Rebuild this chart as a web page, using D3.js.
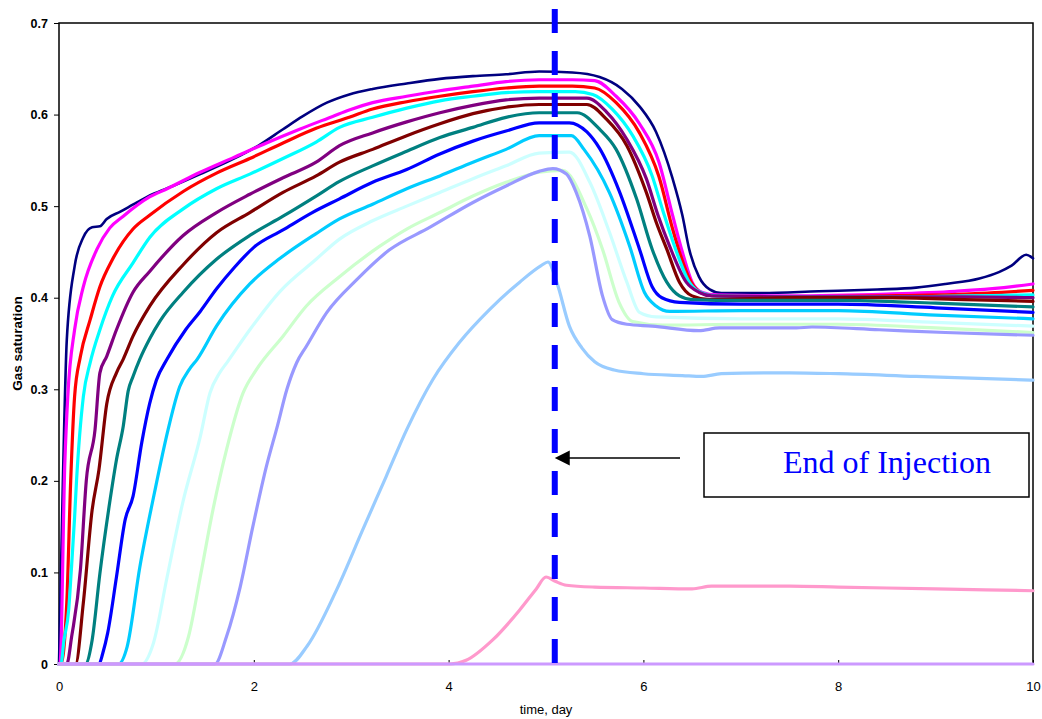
<!DOCTYPE html>
<html>
<head>
<meta charset="utf-8">
<script src="https://cdn.jsdelivr.net/npm/d3@7"></script>
<style>
  html, body { margin: 0; padding: 0; background: #fff; }
  svg { display: block; }
</style>
</head>
<body>
<svg id="chart" width="1042" height="719"></svg>
<script>
// ---------------- DATA (time in days, gas saturation) ----------------
const xTicks = [0, 2, 4, 6, 8, 10];
const yTicks = [0, 0.1, 0.2, 0.3, 0.4, 0.5, 0.6, 0.7];
const endOfInjection = 5.09;
const annotationText = "End of Injection";
const xTitle = "time, day";
const yTitle = "Gas saturation";

const sNavy = [[0,0],[0.04,0.2],[0.08,0.354],[0.16,0.434],[0.25,0.466],[0.34,0.477],[0.42,0.478],[0.49,0.486],[0.63,0.494],[0.8,0.504],[0.96,0.513],[1.17,0.522],[1.45,0.535],[1.78,0.551],[2.06,0.567],[2.3,0.584],[2.5,0.598],[2.75,0.613],[2.98,0.622],[3.22,0.628],[3.57,0.634],[3.91,0.639],[4.25,0.642],[4.59,0.644],[4.93,0.647],[5.27,0.646],[5.55,0.641],[5.78,0.628],[5.96,0.609],[6.13,0.581],[6.3,0.53],[6.4,0.49],[6.47,0.453],[6.57,0.423],[6.68,0.409],[6.8,0.405],[7.2,0.405],[7.8,0.407],[8.4,0.409],[8.8,0.411],[9.1,0.415],[9.45,0.421],[9.65,0.428],[9.78,0.435],[9.93,0.447],[10,0.443]];
const sMagenta = [[0,0],[0.01,0],[0.06,0.22],[0.09,0.292],[0.16,0.365],[0.25,0.412],[0.39,0.453],[0.52,0.476],[0.66,0.489],[0.93,0.51],[1.11,0.519],[1.45,0.537],[1.79,0.553],[2.13,0.569],[2.47,0.584],[2.81,0.598],[2.98,0.605],[3.22,0.613],[3.57,0.62],[3.91,0.626],[4.25,0.631],[4.59,0.636],[4.93,0.638],[5.27,0.638],[5.5,0.637],[5.72,0.62],[5.96,0.59],[6.16,0.548],[6.3,0.49],[6.4,0.45],[6.5,0.417],[6.6,0.406],[6.75,0.403],[7.5,0.402],[8.5,0.404],[9.2,0.407],[9.7,0.411],[10,0.415]];
const sRed = [[0,0],[0.02,0],[0.08,0.067],[0.12,0.2],[0.16,0.292],[0.22,0.336],[0.32,0.376],[0.42,0.412],[0.55,0.442],[0.76,0.475],[0.93,0.49],[1.275,0.516],[1.617,0.536],[1.959,0.552],[2.3,0.569],[2.64,0.585],[2.98,0.597],[3.22,0.606],[3.57,0.614],[3.91,0.62],[4.25,0.625],[4.59,0.629],[4.93,0.631],[5.27,0.631],[5.5,0.629],[5.72,0.613],[5.96,0.58],[6.16,0.532],[6.3,0.475],[6.37,0.45],[6.49,0.417],[6.6,0.405],[6.75,0.402],[7.5,0.401],[8.5,0.402],[9.3,0.404],[10,0.408]];
const sCyan = [[0,0],[0.02,0],[0.05,0.025],[0.1,0.06],[0.125,0.1],[0.16,0.16],[0.18,0.2],[0.25,0.292],[0.32,0.329],[0.42,0.365],[0.55,0.402],[0.76,0.438],[0.933,0.466],[1.275,0.497],[1.617,0.519],[1.959,0.535],[2.3,0.552],[2.64,0.57],[2.88,0.586],[3.22,0.597],[3.57,0.607],[3.91,0.615],[4.25,0.62],[4.59,0.624],[4.93,0.625],[5.3,0.625],[5.48,0.622],[5.68,0.606],[5.89,0.577],[6.09,0.533],[6.2,0.495],[6.34,0.45],[6.47,0.417],[6.61,0.405],[6.75,0.402],[7.5,0.401],[8.5,0.401],[9.3,0.402],[10,0.403]];
const sPurple = [[0,0],[0.08,0],[0.13,0.03],[0.22,0.103],[0.28,0.2],[0.37,0.256],[0.42,0.318],[0.49,0.336],[0.59,0.365],[0.76,0.406],[0.933,0.429],[1.275,0.468],[1.617,0.493],[1.959,0.513],[2.3,0.531],[2.64,0.548],[2.88,0.566],[3.22,0.58],[3.57,0.592],[3.91,0.602],[4.25,0.61],[4.59,0.616],[4.93,0.618],[5.42,0.618],[5.62,0.603],[5.83,0.573],[6.03,0.53],[6.15,0.49],[6.27,0.456],[6.44,0.417],[6.57,0.406],[6.7,0.402],[7.5,0.401],[8.5,0.401],[9.3,0.401],[10,0.4]];
const sMaroon = [[0,0],[0.17,0],[0.25,0.067],[0.34,0.168],[0.41,0.212],[0.49,0.284],[0.59,0.318],[0.66,0.333],[0.76,0.358],[0.933,0.391],[1.275,0.436],[1.617,0.471],[1.959,0.493],[2.3,0.515],[2.64,0.533],[2.88,0.548],[3.22,0.562],[3.57,0.577],[3.91,0.59],[4.25,0.601],[4.59,0.608],[4.93,0.611],[5.42,0.611],[5.62,0.595],[5.83,0.566],[6.03,0.515],[6.14,0.48],[6.24,0.453],[6.37,0.417],[6.5,0.402],[6.68,0.398],[7.5,0.4],[8.5,0.4],[9.3,0.398],[10,0.396]];
const sTeal = [[0,0],[0.27,0],[0.34,0.026],[0.42,0.099],[0.52,0.176],[0.59,0.223],[0.66,0.26],[0.71,0.298],[0.76,0.314],[0.83,0.333],[0.93,0.355],[1.04,0.375],[1.275,0.406],[1.617,0.442],[1.959,0.468],[2.3,0.489],[2.64,0.511],[2.88,0.527],[3.22,0.544],[3.57,0.56],[3.91,0.575],[4.25,0.586],[4.59,0.597],[4.93,0.602],[5.32,0.602],[5.55,0.584],[5.72,0.562],[5.93,0.508],[6.09,0.453],[6.24,0.417],[6.37,0.402],[6.5,0.398],[7,0.397],[8,0.397],[9,0.394],[10,0.39]];
const sBlue = [[0,0],[0.41,0],[0.45,0.012],[0.5,0.034],[0.59,0.095],[0.68,0.158],[0.76,0.183],[0.85,0.242],[0.93,0.284],[1.0,0.31],[1.11,0.333],[1.3,0.365],[1.45,0.385],[1.62,0.41],[1.8,0.433],[2.0,0.455],[2.3,0.474],[2.6,0.493],[2.88,0.508],[3.22,0.526],[3.57,0.54],[3.91,0.557],[4.25,0.571],[4.59,0.582],[4.93,0.591],[5.24,0.591],[5.42,0.581],[5.55,0.563],[5.75,0.517],[5.96,0.453],[6.09,0.412],[6.19,0.4],[6.37,0.395],[7,0.393],[8,0.393],[9,0.389],[10,0.384]];
const sDeepSky = [[0,0],[0.61,0],[0.7,0.019],[0.83,0.106],[0.98,0.187],[1.12,0.256],[1.24,0.303],[1.34,0.322],[1.42,0.333],[1.617,0.369],[1.959,0.415],[2.27,0.443],[2.64,0.47],[2.88,0.486],[3.22,0.502],[3.57,0.519],[3.91,0.533],[4.25,0.548],[4.59,0.562],[4.93,0.577],[5.26,0.577],[5.39,0.562],[5.65,0.515],[5.86,0.456],[6.01,0.406],[6.13,0.391],[6.27,0.385],[7,0.386],[8,0.386],[9,0.381],[10,0.377]];
const sLightCyan = [[0,0],[0.85,0],[0.97,0.023],[1.11,0.095],[1.27,0.176],[1.45,0.248],[1.55,0.296],[1.65,0.318],[1.73,0.33],[1.959,0.365],[2.27,0.407],[2.64,0.442],[2.88,0.464],[3.22,0.484],[3.57,0.5],[3.91,0.515],[4.25,0.53],[4.59,0.544],[4.93,0.558],[5.24,0.559],[5.45,0.526],[5.65,0.472],[5.83,0.417],[5.96,0.384],[6.13,0.379],[7,0.377],[8,0.377],[9,0.373],[10,0.369]];
const sLightGreen = [[0,0],[1.19,0],[1.33,0.03],[1.45,0.095],[1.58,0.168],[1.72,0.234],[1.89,0.296],[2.03,0.322],[2.3,0.358],[2.54,0.391],[2.88,0.423],[3.29,0.456],[3.57,0.475],[3.91,0.493],[4.25,0.511],[4.59,0.526],[4.93,0.537],[5.17,0.539],[5.42,0.497],[5.58,0.453],[5.75,0.395],[5.89,0.374],[6.2,0.37],[7,0.371],[8,0.371],[9,0.367],[10,0.362]];
const sPeriwinkle = [[0,0],[1.6,0],[1.72,0.03],[1.86,0.084],[1.99,0.15],[2.13,0.216],[2.24,0.259],[2.34,0.3],[2.44,0.329],[2.54,0.347],[2.75,0.384],[3.06,0.42],[3.39,0.452],[3.81,0.477],[4.25,0.504],[4.59,0.522],[4.93,0.538],[5.07,0.541],[5.21,0.535],[5.31,0.515],[5.45,0.467],[5.58,0.402],[5.68,0.376],[5.83,0.371],[6.09,0.369],[6.57,0.364],[6.78,0.367],[7.57,0.367],[7.73,0.368],[8.42,0.365],[9.1,0.362],[10,0.359]];
const sLightSky = [[0,0],[2.37,0],[2.55,0.02],[2.85,0.081],[3.12,0.147],[3.36,0.205],[3.57,0.256],[3.84,0.311],[4.11,0.351],[4.42,0.387],[4.73,0.417],[4.95,0.435],[5.02,0.439],[5.11,0.417],[5.24,0.369],[5.37,0.345],[5.5,0.33],[5.7,0.321],[6.0,0.317],[6.4,0.315],[6.6,0.314],[6.8,0.317],[7.5,0.318],[8,0.317],[8.8,0.314],[10,0.31]];
const sPink = [[0,0],[4.01,0],[4.18,0.004],[4.45,0.026],[4.73,0.059],[4.9,0.082],[5.0,0.095],[5.1,0.09],[5.21,0.086],[5.5,0.084],[6.0,0.083],[6.5,0.082],[6.7,0.085],[7.5,0.085],[8,0.084],[9,0.082],[10,0.08]];
const sLavender = [[0,0],[10,0]];

const seriesData = [sNavy, sMagenta, sRed, sCyan, sPurple, sMaroon, sTeal, sBlue, sDeepSky, sLightCyan, sLightGreen, sPeriwinkle, sLightSky, sPink, sLavender];
const seriesColors = ["#000080", "#FF00FF", "#FF0000", "#00FFFF", "#800080", "#800000", "#008080", "#0000FF", "#00CCFF", "#CCFFFF", "#CCFFCC", "#9999FF", "#99CCFF", "#FF99CC", "#CC99FF"];

// ---------------- LAYOUT ----------------
const svg = d3.select("#chart");
const mLeft = 59, mRight = 1033, mTop = 23, mBottom = 664;
const x = d3.scaleLinear().domain([0, 10]).range([mLeft, mRight]);
const y = d3.scaleLinear().domain([0, 0.7]).range([mBottom, mTop]);
const sans = "'Liberation Sans', Arial, sans-serif";
const serif = "'Liberation Serif', 'Times New Roman', serif";

svg.append("rect").attr("width", 1042).attr("height", 719).attr("fill", "#fff");

// frame
svg.append("rect")
  .attr("x", mLeft).attr("y", mTop)
  .attr("width", mRight - mLeft).attr("height", mBottom - mTop)
  .attr("fill", "none").attr("stroke", "#000").attr("stroke-width", 1.5);

// y axis
const yAxis = svg.append("g").attr("transform", `translate(${mLeft},0)`)
  .call(d3.axisLeft(y).tickValues(yTicks).tickSizeInner(5).tickSizeOuter(0).tickPadding(6)
    .tickFormat(d => d === 0 ? "0" : d3.format(".1f")(d)));
yAxis.select(".domain").remove();
yAxis.selectAll("line").attr("stroke", "#000");
yAxis.selectAll("text").attr("font-family", sans).attr("font-size", 12.5)
  .attr("font-weight", "bold").attr("fill", "#000");

// x axis
const xAxis = svg.append("g").attr("transform", `translate(0,${mBottom})`)
  .call(d3.axisBottom(x).tickValues(xTicks).tickSizeInner(-4).tickSizeOuter(0).tickPadding(18)
    .tickFormat(d3.format("d")));
xAxis.select(".domain").remove();
xAxis.selectAll("line").attr("stroke", "#000");
xAxis.selectAll("text").attr("font-family", sans).attr("font-size", 13).attr("fill", "#000");

// axis titles
svg.append("text").attr("x", (mLeft + mRight) / 2).attr("y", 714)
  .attr("text-anchor", "middle").attr("font-family", sans).attr("font-size", 13)
  .attr("fill", "#000").text(xTitle);
svg.append("text").attr("transform", `translate(22,${(mTop + mBottom) / 2}) rotate(-90)`)
  .attr("text-anchor", "middle").attr("font-family", sans).attr("font-size", 13.5)
  .attr("font-weight", "bold").attr("fill", "#000").text(yTitle);

// series
const line = d3.line().x(d => x(d[0])).y(d => y(d[1])).curve(d3.curveMonotoneX);
svg.append("g").selectAll("path").data(seriesData).join("path")
  .attr("d", line)
  .attr("fill", "none")
  .attr("stroke", (d, i) => seriesColors[i])
  .attr("stroke-width", (d, i) => i === 0 ? 2.6 : 3.2)
  .attr("stroke-linejoin", "round")
  .attr("stroke-linecap", "round");

// end of injection dashed line
svg.append("line")
  .attr("x1", x(endOfInjection)).attr("x2", x(endOfInjection))
  .attr("y1", 9).attr("y2", y(0))
  .attr("stroke", "#0000FF").attr("stroke-width", 6)
  .attr("stroke-dasharray", "24,18");

// annotation box
const boxX = 704, boxY = 433, boxW = 325, boxH = 64;
svg.append("rect").attr("x", boxX).attr("y", boxY).attr("width", boxW).attr("height", boxH)
  .attr("fill", "#fff").attr("stroke", "#000").attr("stroke-width", 1.5);
svg.append("text").attr("x", 783).attr("y", 473)
  .attr("font-family", serif).attr("font-size", 32).attr("fill", "#0000FF")
  .text(annotationText);

// arrow
const ay = 458, tipX = x(endOfInjection);
svg.append("line").attr("x1", 680).attr("x2", tipX + 10).attr("y1", ay).attr("y2", ay)
  .attr("stroke", "#000").attr("stroke-width", 1.3);
svg.append("path")
  .attr("d", `M${tipX},${ay} L${tipX + 15},${ay - 7.5} L${tipX + 15},${ay + 7.5} Z`)
  .attr("fill", "#000");
</script>
</body>
</html>
